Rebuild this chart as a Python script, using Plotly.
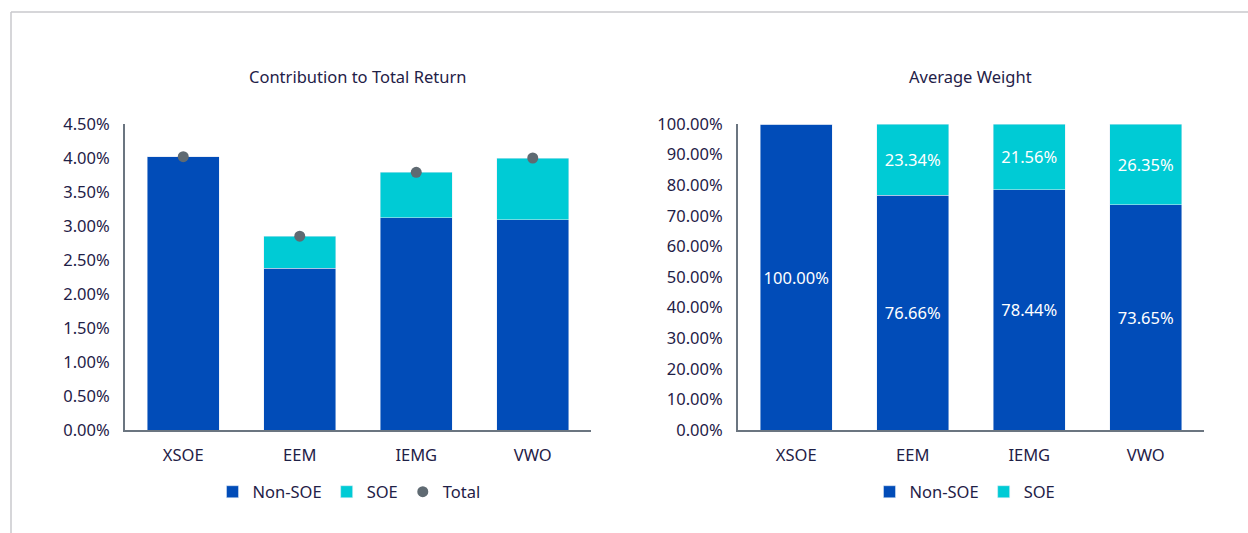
import plotly.graph_objects as go

categories = ["XSOE", "EEM", "IEMG", "VWO"]

# Contribution to Total Return (%)
contrib_non_soe = [4.02, 2.38, 3.12, 3.09]
contrib_soe = [0.0, 0.47, 0.67, 0.91]
contrib_total = [4.02, 2.85, 3.79, 4.00]

# Average Weight (%)
weight_non_soe = [100.00, 76.66, 78.44, 73.65]
weight_soe = [0.0, 23.34, 21.56, 26.35]

W, H = 1248, 533
NAVY = "#1f2147"
C_NON = "#014CB8"
C_SOE = "#00CBD5"
C_TOT = "#5f6a72"
AXIS = "#6b7580"
FONT = "Noto Sans"
FS = 16.5

def px(x):
    return x / W

def py(y):
    return (H - y) / H

fig = go.Figure()

fig.add_trace(go.Bar(x=categories, y=contrib_non_soe, name="Non-SOE", marker_color=C_NON,
                     width=0.62, xaxis="x", yaxis="y", legend="legend"))
fig.add_trace(go.Bar(x=categories, y=contrib_soe, name="SOE", marker_color=C_SOE,
                     width=0.62, xaxis="x", yaxis="y", legend="legend"))
fig.add_trace(go.Scatter(x=categories, y=contrib_total, name="Total", mode="markers",
                         marker=dict(color=C_TOT, size=11), xaxis="x", yaxis="y", legend="legend"))

def lbl(vals):
    return [f"{v:.2f}%" if v > 0 else "" for v in vals]

fig.add_trace(go.Bar(x=categories, y=weight_non_soe, name="Non-SOE", marker_color=C_NON,
                     width=0.62, xaxis="x2", yaxis="y2", legend="legend2",
                     text=lbl(weight_non_soe), textposition="inside", insidetextanchor="middle",
                     textfont=dict(color="white", size=FS, family=FONT), constraintext="none"))
fig.add_trace(go.Bar(x=categories, y=weight_soe, name="SOE", marker_color=C_SOE,
                     width=0.62, xaxis="x2", yaxis="y2", legend="legend2",
                     text=lbl(weight_soe), textposition="inside", insidetextanchor="middle",
                     textfont=dict(color="white", size=FS, family=FONT), constraintext="none"))

ydom = [py(430), py(124)]
common_x = dict(showline=True, linecolor=AXIS, linewidth=2, ticks="", showgrid=False,
                tickfont=dict(size=FS, color=NAVY, family=FONT), automargin=False,
                ticklabelstandoff=9)
common_y = dict(showline=True, linecolor=AXIS, linewidth=2, ticks="", showgrid=False,
                zeroline=False, tickfont=dict(size=FS, color=NAVY, family=FONT),
                ticksuffix="%", tickformat=".2f", automargin=False, ticklabelstandoff=10)

fig.update_layout(
    width=W, height=H,
    margin=dict(l=0, r=0, t=0, b=0, pad=0, autoexpand=False),
    paper_bgcolor="white", plot_bgcolor="white",
    barmode="stack",
    font=dict(family=FONT, color=NAVY, size=FS),
    xaxis=dict(domain=[px(125), px(591)], anchor="y", **common_x),
    yaxis=dict(domain=ydom, anchor="x", range=[0, 4.5], dtick=0.5, **common_y),
    xaxis2=dict(domain=[px(738), px(1204)], anchor="y2", **common_x),
    yaxis2=dict(domain=ydom, anchor="x2", range=[0, 100], dtick=10, **common_y),
    legend=dict(orientation="h", x=px(349), y=py(492), xanchor="center", yanchor="middle",
                font=dict(size=FS, color=NAVY, family=FONT), traceorder="normal"),
    legend2=dict(orientation="h", x=px(965), y=py(492), xanchor="center", yanchor="middle",
                 font=dict(size=FS, color=NAVY, family=FONT), traceorder="normal"),
    annotations=[
        dict(text="Contribution to Total Return", x=px(357), y=py(77), xref="paper", yref="paper",
             showarrow=False, font=dict(size=FS, color=NAVY, family=FONT), xanchor="center", yanchor="middle"),
        dict(text="Average Weight", x=px(970), y=py(77), xref="paper", yref="paper",
             showarrow=False, font=dict(size=FS, color=NAVY, family=FONT), xanchor="center", yanchor="middle"),
    ],
    shapes=[
        dict(type="line", xref="paper", yref="paper", x0=px(11), x1=1.0, y0=py(12), y1=py(12),
             line=dict(color="#c8c8cc", width=1.5)),
        dict(type="line", xref="paper", yref="paper", x0=px(11), x1=px(11), y0=py(12), y1=0,
             line=dict(color="#c8c8cc", width=1.5)),
    ],
)

fig.write_html("out.html", config={"displayModeBar": False},
               post_script="document.body.style.margin='0';document.body.style.overflow='hidden';")
